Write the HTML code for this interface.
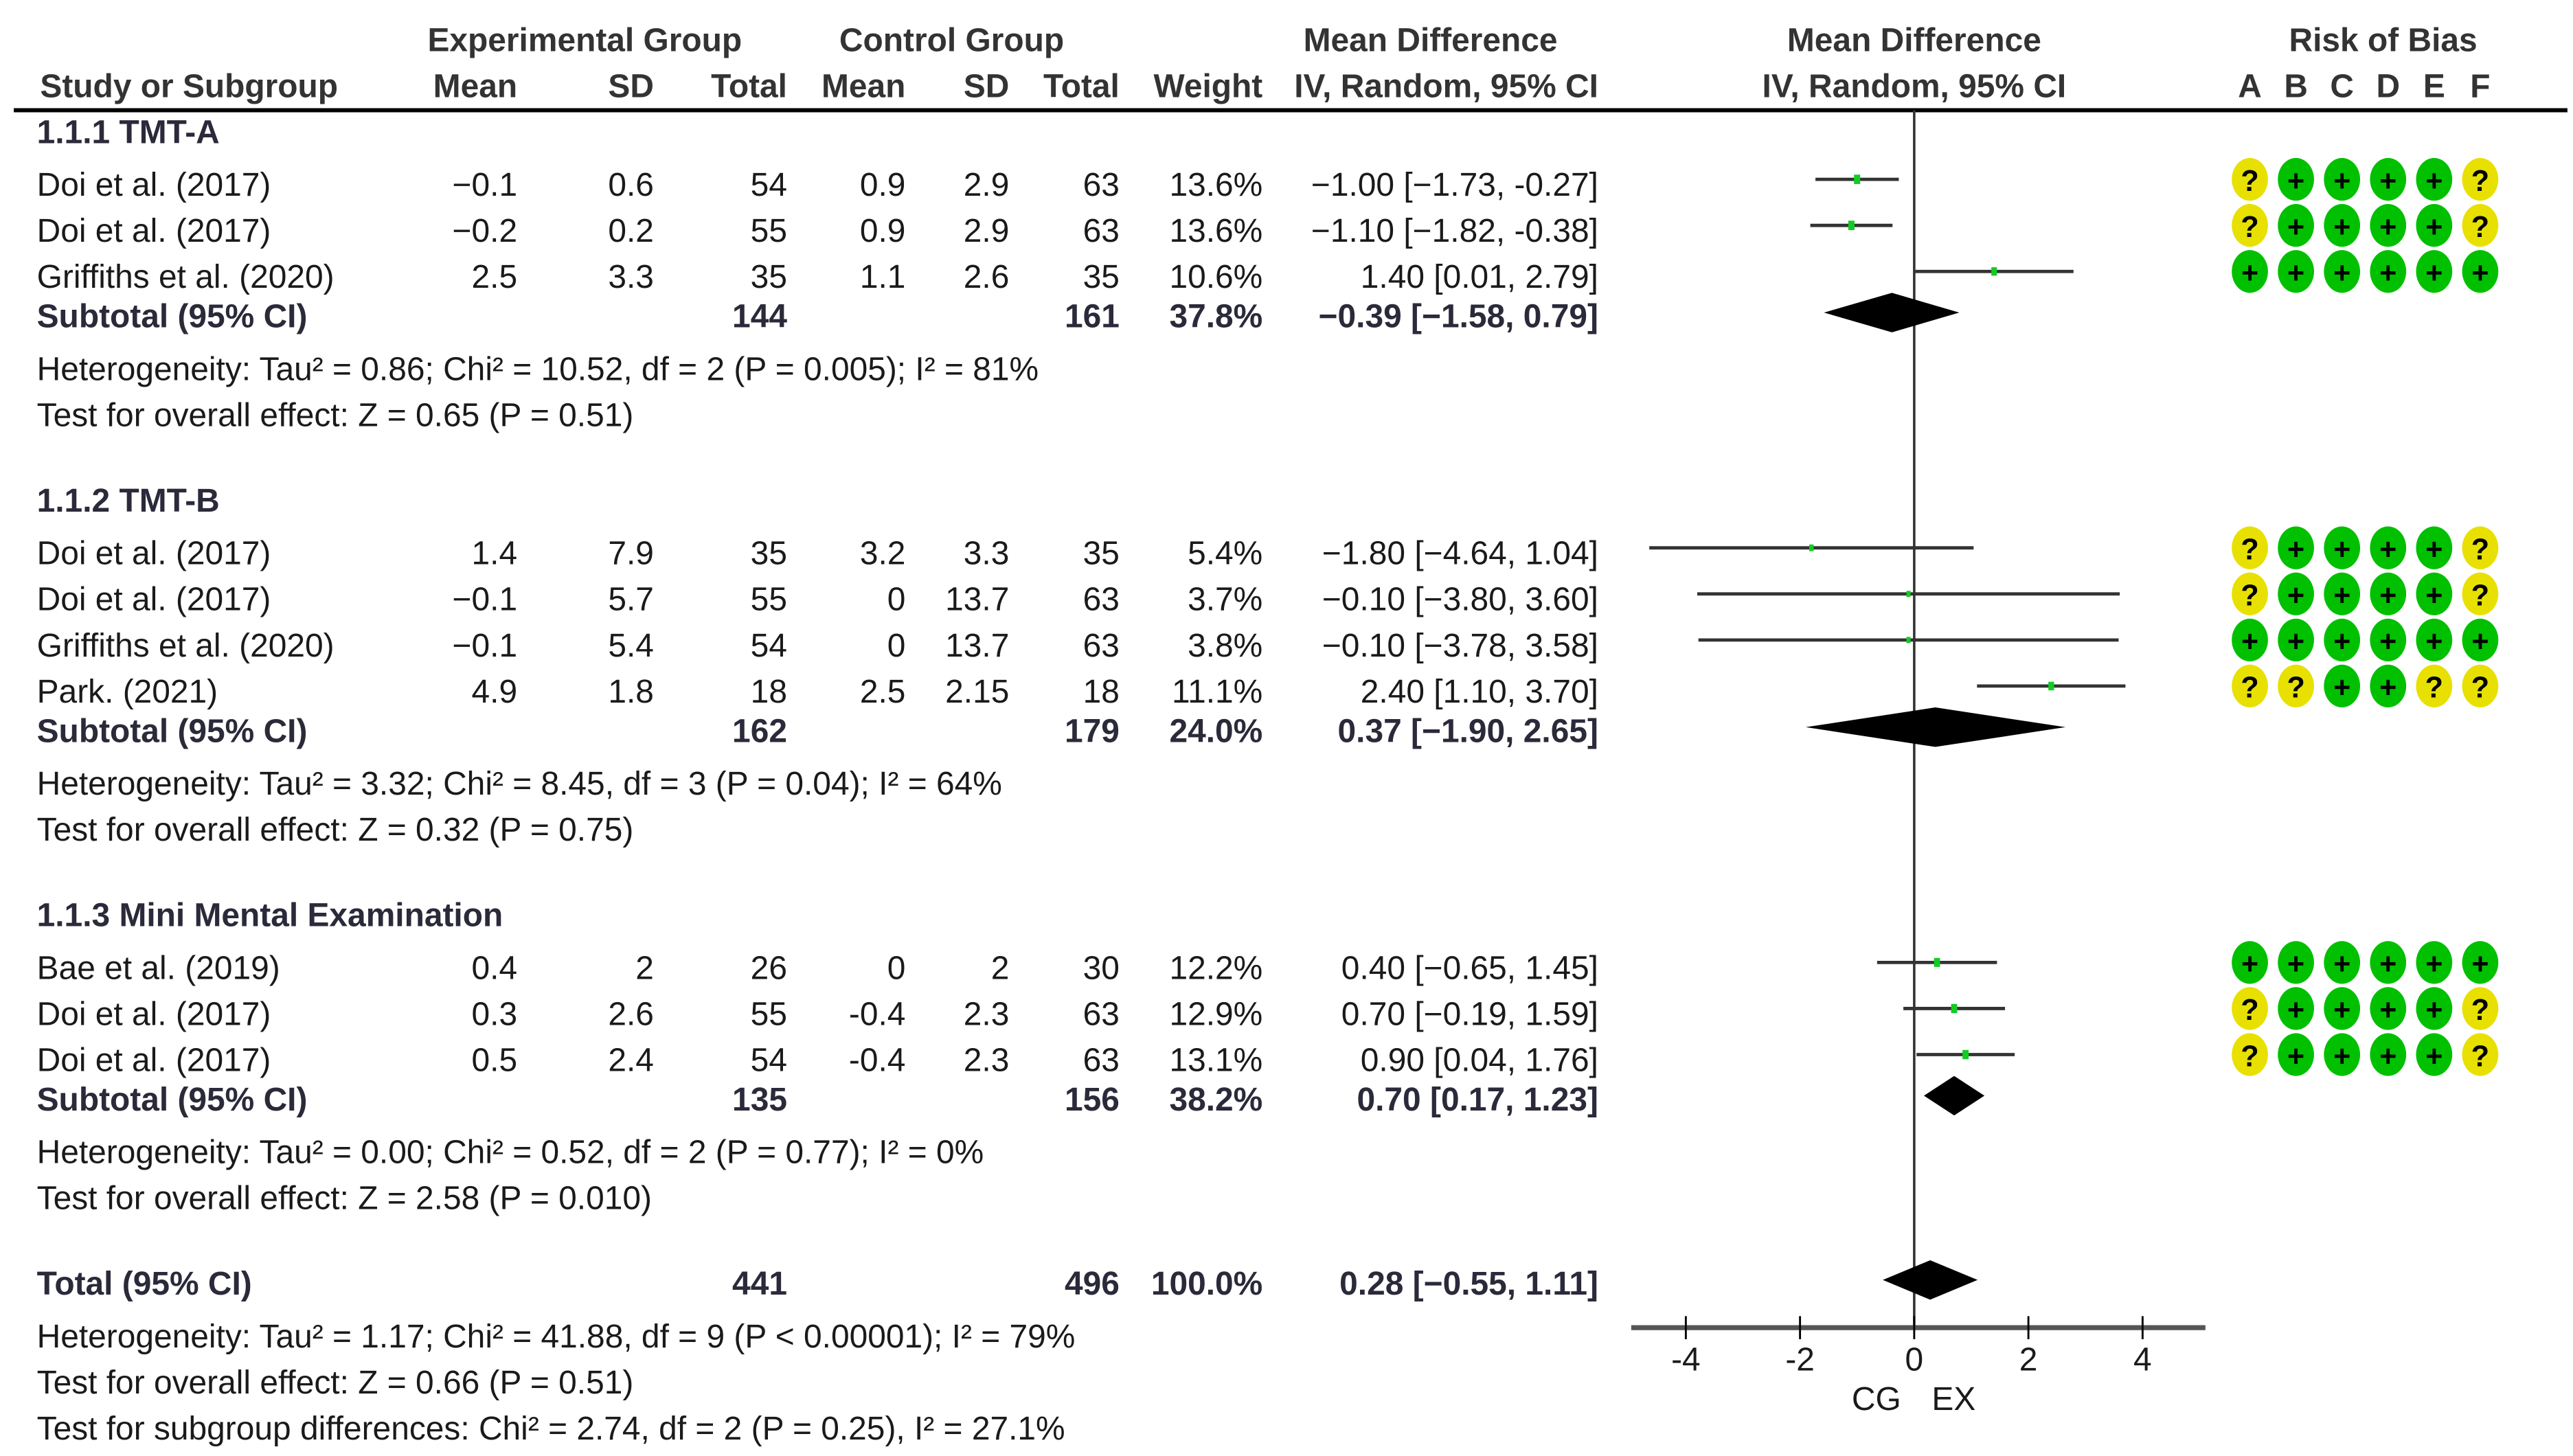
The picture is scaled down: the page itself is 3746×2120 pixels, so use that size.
<!DOCTYPE html>
<html><head><meta charset="utf-8"><style>
html,body{margin:0;padding:0;background:#fff;}
svg{display:block;}
text{font-family:"Liberation Sans Narrow","Liberation Sans",sans-serif;font-size:20px;fill:#1a1a1a;}
.b{font-weight:bold;fill:#2a2a3a;}
.h{font-weight:bold;fill:#333;}
</style></head><body>
<svg id="chart" width="3746" height="2120" viewBox="0 0 1563 885" xmlns="http://www.w3.org/2000/svg">
<g id="hdr">
<text class="h" x="355" y="31" text-anchor="middle">Experimental Group</text>
<text class="h" x="578" y="31" text-anchor="middle">Control Group</text>
<text class="h" x="869" y="31" text-anchor="middle">Mean Difference</text>
<text class="h" x="1163" y="31" text-anchor="middle">Mean Difference</text>
<text class="h" x="1448" y="31" text-anchor="middle">Risk of Bias</text>
<text class="h" x="24" y="59">Study or Subgroup</text>
<text class="h" x="314" y="59" text-anchor="end">Mean</text>
<text class="h" x="397" y="59" text-anchor="end">SD</text>
<text class="h" x="478" y="59" text-anchor="end">Total</text>
<text class="h" x="550" y="59" text-anchor="end">Mean</text>
<text class="h" x="613" y="59" text-anchor="end">SD</text>
<text class="h" x="680" y="59" text-anchor="end">Total</text>
<text class="h" x="767" y="59" text-anchor="end">Weight</text>
<text class="h" x="971" y="59" text-anchor="end">IV, Random, 95% CI</text>
<text class="h" x="1163" y="59" text-anchor="middle">IV, Random, 95% CI</text>
<text class="h" x="1367" y="59" text-anchor="middle">A</text>
<text class="h" x="1395" y="59" text-anchor="middle">B</text>
<text class="h" x="1423" y="59" text-anchor="middle">C</text>
<text class="h" x="1451" y="59" text-anchor="middle">D</text>
<text class="h" x="1479" y="59" text-anchor="middle">E</text>
<text class="h" x="1507" y="59" text-anchor="middle">F</text>
</g>
<line x1="8" y1="67" x2="1560" y2="67" stroke="#000" stroke-width="2.5"/>
<g id="body"></g>
</svg>
<script>
const studies = ["Doi et al. (2017)","Doi et al. (2017)","Griffiths et al. (2020)","Doi et al. (2017)","Doi et al. (2017)","Griffiths et al. (2020)","Park. (2021)","Bae et al. (2019)","Doi et al. (2017)","Doi et al. (2017)"];
const expMean = ["−0.1","−0.2","2.5","1.4","−0.1","−0.1","4.9","0.4","0.3","0.5"];
const expSD = ["0.6","0.2","3.3","7.9","5.7","5.4","1.8","2","2.6","2.4"];
const expN = [54,55,35,35,55,54,18,26,55,54];
const ctlMean = ["0.9","0.9","1.1","3.2","0","0","2.5","0","-0.4","-0.4"];
const ctlSD = ["2.9","2.9","2.6","3.3","13.7","13.7","2.15","2","2.3","2.3"];
const ctlN = [63,63,35,35,63,63,18,30,63,63];
const weights = [13.6,13.6,10.6,5.4,3.7,3.8,11.1,12.2,12.9,13.1];
const md = [-1.00,-1.10,1.40,-1.80,-0.10,-0.10,2.40,0.40,0.70,0.90];
const lo = [-1.73,-1.82,0.01,-4.64,-3.80,-3.78,1.10,-0.65,-0.19,0.04];
const hi = [-0.27,-0.38,2.79,1.04,3.60,3.58,3.70,1.45,1.59,1.76];
const studyGroup = [0,0,0,1,1,1,1,2,2,2];
const bias = ["?++++?","?++++?","++++++","?++++?","?++++?","++++++","??++??","++++++","?++++?","?++++?"];
const groupNames = ["1.1.1 TMT-A","1.1.2 TMT-B","1.1.3 Mini Mental Examination"];
const subExpN = [144,162,135];
const subCtlN = [161,179,156];
const subWeight = ["37.8%","24.0%","38.2%"];
const subMd = [-0.39,0.37,0.70];
const subLo = [-1.58,-1.90,0.17];
const subHi = [0.79,2.65,1.23];
const subHet = ["Heterogeneity: Tau² = 0.86; Chi² = 10.52, df = 2 (P = 0.005); I² = 81%","Heterogeneity: Tau² = 3.32; Chi² = 8.45, df = 3 (P = 0.04); I² = 64%","Heterogeneity: Tau² = 0.00; Chi² = 0.52, df = 2 (P = 0.77); I² = 0%"];
const subTest = ["Test for overall effect: Z = 0.65 (P = 0.51)","Test for overall effect: Z = 0.32 (P = 0.75)","Test for overall effect: Z = 2.58 (P = 0.010)"];
const totalMd = 0.28, totalLo = -0.55, totalHi = 1.11;
const totalN = [441,496];
const ticks = [-4,-2,0,2,4];
const footer = ["Heterogeneity: Tau² = 1.17; Chi² = 41.88, df = 9 (P < 0.00001); I² = 79%","Test for overall effect: Z = 0.66 (P = 0.51)","Test for subgroup differences: Chi² = 2.74, df = 2 (P = 0.25), I² = 27.1%"];

const NS="http://www.w3.org/2000/svg";
const body=document.getElementById('body');
const X=v=>1163+v*34.7;
function el(tag,attrs,parent){const e=document.createElementNS(NS,tag);for(const k in attrs)e.setAttribute(k,attrs[k]);(parent||body).appendChild(e);return e;}
function txt(s,x,y,anchor,cls,name){const t=el('text',{x:x,y:y+7,'text-anchor':anchor||'start'});if(cls)t.setAttribute('class',cls);t.textContent=s;


return t;}
function fci2(m,l,h){return m.toFixed(2).replace('-','−')+" ["+l.toFixed(2).replace('-','−')+", "+h.toFixed(2)+"]";}
const zl=el('line',{x1:X(0),y1:67,x2:X(0),y2:807,stroke:'#333','stroke-width':1.5});


const groupTop=[80,304,556];
for(let g=0;g<3;g++){
  let y=groupTop[g];
  txt(groupNames[g],22,y,'start','b','subgroup-title');
  y+=32;
  for(let i=0;i<studies.length;i++){ if(studyGroup[i]!==g) continue;
    txt(studies[i],22,y,'start',null,'study-name');
    txt(expMean[i],314,y,'end',null,'exp-mean');
    txt(expSD[i],397,y,'end',null,'exp-sd');
    txt(String(expN[i]),478,y,'end',null,'exp-total');
    txt(ctlMean[i],550,y,'end',null,'ctl-mean');
    txt(ctlSD[i],613,y,'end',null,'ctl-sd');
    txt(String(ctlN[i]),680,y,'end',null,'ctl-total');
    txt(weights[i].toFixed(1)+"%",767,y,'end',null,'weight');
    txt(fci2(md[i],lo[i],hi[i]),971,y,'end',null,'ci-text');
    const ln=el('line',{x1:X(lo[i]),y1:y-3,x2:X(hi[i]),y2:y-3,stroke:'#333','stroke-width':2});
    
    
    const s=3+weights[i]*0.2;
    const sq=el('rect',{x:X(md[i])-s/3,y:y-3-s/2,width:s*0.66,height:s,fill:'#11cc22'});
    
    
    for(let k=0;k<6;k++){
      const cx=1367+k*28, c=bias[i][k];
      const ci=el('ellipse',{cx:cx,cy:y-3,rx:11,ry:13,fill:c==='+'?'#00c000':'#e8e000'});
      
      
      const bt=el('text',{x:cx,y:y+4,'text-anchor':'middle',style:'font-weight:bold;font-size:18px;fill:#000'});
      bt.textContent=c;
      
      
    }
    y+=28;
  }
  y-=4;
  txt("Subtotal (95% CI)",22,y,'start','b','subtotal-label');
  txt(String(subExpN[g]),478,y,'end','b','subtotal-exp');
  txt(String(subCtlN[g]),680,y,'end','b','subtotal-ctl');
  txt(subWeight[g],767,y,'end','b','subtotal-weight');
  txt(fci2(subMd[g],subLo[g],subHi[g]),971,y,'end','b','subtotal-ci');
  const d=el('polygon',{points:[X(subLo[g])+','+(y-2),X(subMd[g])+','+(y-14),X(subHi[g])+','+(y-2),X(subMd[g])+','+(y+10)].join(' '),fill:'#000'});
  
  
  txt(subHet[g],22,y+32,'start',null,'heterogeneity');
  txt(subTest[g],22,y+60,'start',null,'overall-effect');
}
let y=780;
txt("Total (95% CI)",22,y,'start','b','total-label');
txt(String(totalN[0]),478,y,'end','b','total-exp');
txt(String(totalN[1]),680,y,'end','b','total-ctl');
txt("100.0%",767,y,'end','b','total-weight');
txt(fci2(totalMd,totalLo,totalHi),971,y,'end','b','total-ci');
const td=el('polygon',{points:[X(totalLo)+','+(y-2),X(totalMd)+','+(y-14),X(totalHi)+','+(y-2),X(totalMd)+','+(y+10)].join(' '),fill:'#000'});


for(let k=0;k<3;k++) txt(footer[k],22,812+k*28,'start',null,'footer-stat');
const ax=el('line',{x1:991,y1:807,x2:1340,y2:807,stroke:'#555','stroke-width':3});


ticks.forEach(t=>{
  const tl=el('line',{x1:X(t),y1:800,x2:X(t),y2:814,stroke:'#000','stroke-width':1.2});
  
  
  txt(String(t),X(t),826,'middle',null,'x-tick-label');
});
txt("CG",1140,850,'middle',null,'favours-control');
txt("EX",1187,850,'middle',null,'favours-experimental');
</script>
</body></html>
